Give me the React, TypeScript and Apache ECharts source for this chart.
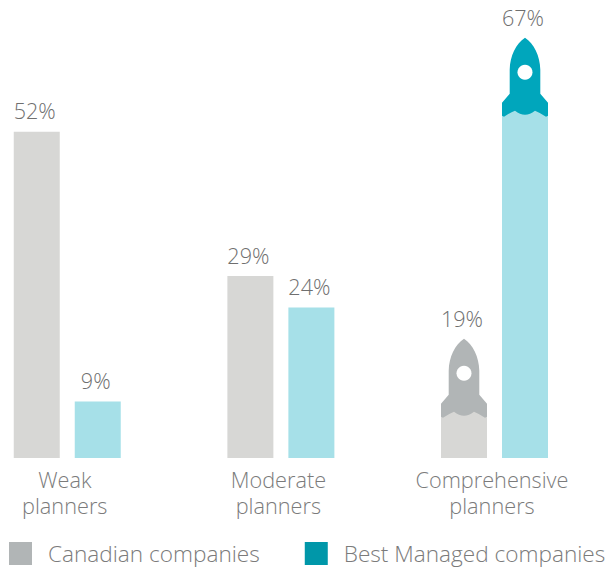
import React, { useEffect, useRef } from "react";
import * as echarts from "echarts";

const categories = ["Weak\nplanners", "Moderate\nplanners", "Comprehensive\nplanners"];
const canadianValues = [52, 29, 19];
const bestManagedValues = [9, 24, 67];
const rocketCategoryIndex = 2;
const FONT = '"Open Sans", sans-serif';
const ROCKET_PATH =
  "M0 0 C-9 6 -15 18 -15.3 32 L-15.3 56 L-23 65 L-23 78 L-21 79 Q-15 75 -10 73 Q-5 77 0 77 Q5 77 10 73 Q15 75 21 79 L23 78 L23 65 L15.3 56 L15.3 32 C15 18 9 6 0 0 Z";

function makeSeries(name: string, values: number[], offset: number, barColor: string, rocketColor: string) {
  return {
    type: "custom",
    name,
    silent: true,
    clip: false,
    data: values.map((v, i) => [i, v]),
    encode: { x: 0, y: 1 },
    itemStyle: { color: rocketColor },
    renderItem: (_: any, api: any) => {
      const idx = api.value(0);
      const val = api.value(1);
      const [cx, top] = api.coord([idx, val]);
      const [, base] = api.coord([idx, 0]);
      const x = cx + offset;
      const isRocket = idx === rocketCategoryIndex;
      const barTop = isRocket ? top + 66 : top;
      const children: any[] = [
        { type: "rect", shape: { x: x - 23, y: barTop, width: 46, height: base - barTop }, style: { fill: barColor } },
      ];
      if (isRocket) {
        children.push(
          {
            type: "path",
            shape: { pathData: ROCKET_PATH, x: x - 23, y: top, width: 46, height: 79, layout: "cover" },
            style: { fill: rocketColor },
          },
          { type: "circle", shape: { cx: x, cy: top + 34.5, r: 7.5 }, style: { fill: "#ffffff" } },
        );
      }
      children.push({
        type: "text",
        style: {
          text: `${val}%`,
          x: x - 2,
          y: top - (isRocket ? 20 : 21),
          align: "center",
          verticalAlign: "middle",
          fill: "#6f6f6f",
          font: `300 21.6px ${FONT}`,
        },
      });
      return { type: "group", children };
    },
  };
}

export default function App() {
  const ref = useRef<HTMLDivElement>(null);
  useEffect(() => {
    const chart = echarts.init(ref.current!, undefined, { renderer: "svg" });
    chart.setOption({
      animation: false,
      grid: { left: 67.25, right: 112.5, top: 0, height: 458, containLabel: false },
      legend: {
        left: 9,
        top: 542,
        itemWidth: 23,
        itemHeight: 23,
        itemGap: 45,
        padding: 0,
        selectedMode: false,
        textStyle: { color: "#7b7b7b", fontFamily: FONT, fontWeight: 300, fontSize: 22.6, padding: [0, 0, 0, 11] },
        data: [
          { name: "Canadian companies", icon: "rect", itemStyle: { color: "#B1B5B6" } },
          { name: "Best Managed companies", icon: "rect", itemStyle: { color: "#0097A9" } },
        ],
      },
      xAxis: {
        type: "category",
        boundaryGap: false,
        data: categories,
        axisLine: { show: false },
        axisTick: { show: false },
        axisLabel: {
          interval: 0,
          margin: 8,
          color: "#7b7b7b",
          fontFamily: FONT,
          fontWeight: 300,
          fontSize: 21.7,
          lineHeight: 26,
          padding: [0, 5, 0, 0],
        },
      },
      yAxis: { type: "value", min: 0, max: 73, show: false, splitLine: { show: false } },
      series: [
        makeSeries("Canadian companies", canadianValues, -30.5, "#D7D7D5", "#B1B5B6"),
        makeSeries("Best Managed companies", bestManagedValues, 30.5, "#A6E0E8", "#00A6BC"),
      ],
    });
    return () => chart.dispose();
  }, []);
  return <div ref={ref} style={{ width: 607, height: 568, position: "absolute", left: 0, top: 0 }} />;
}
